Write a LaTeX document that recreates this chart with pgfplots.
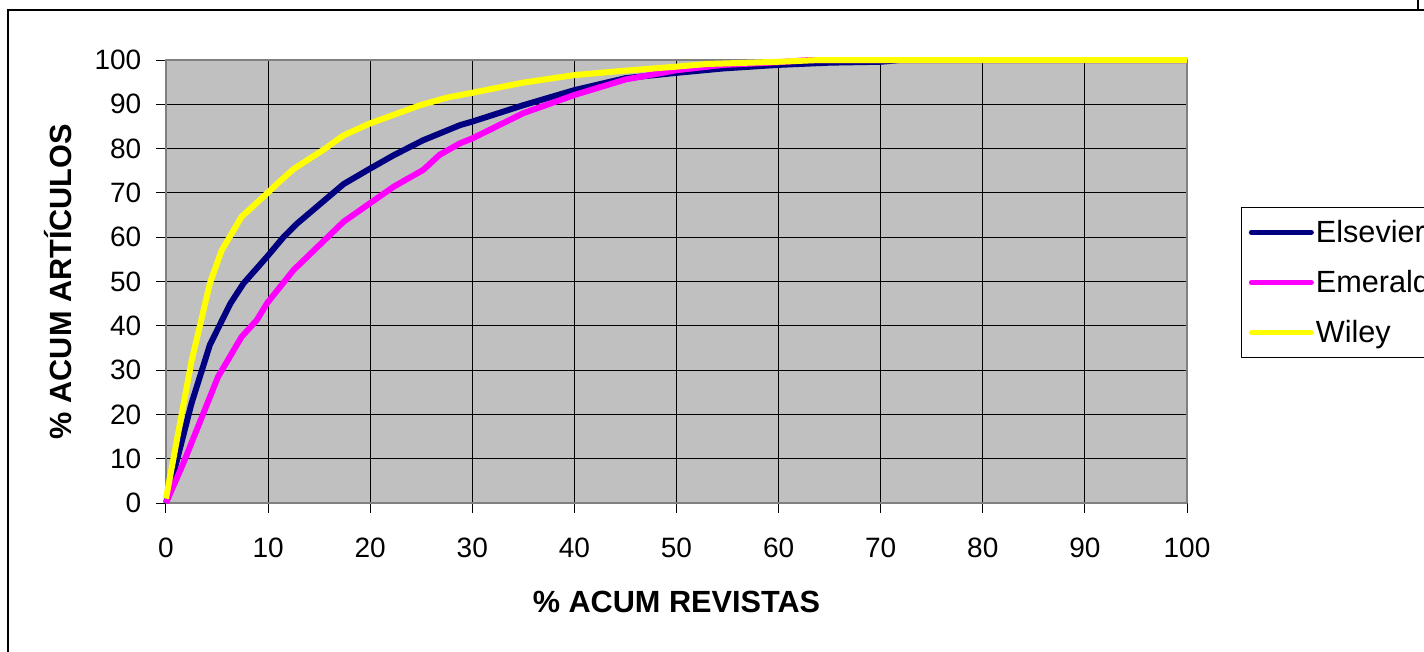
\documentclass[border=0pt]{standalone}
\usepackage{fontspec}
\setmainfont{Liberation Sans}
\usepackage{pgfplots}
\pgfplotsset{compat=1.18}
\definecolor{xlgray}{HTML}{C0C0C0}
\definecolor{xlnavy}{HTML}{000080}
\definecolor{xlmagenta}{HTML}{FF00FF}
\definecolor{xlyellow}{HTML}{FFFF00}

\begin{document}
\begin{tikzpicture}
% 1 px of the reference = 0.75pt; axis origin at px (166,503)
\useasboundingbox (-124.5pt,-111pt) rectangle (943.5pt,377.25pt);
\fill[white] (-124.5pt,-111pt) rectangle (943.5pt,377.25pt);
\clip (-124.5pt,-111pt) rectangle (943.5pt,377.25pt);
\draw[black, line width=0.9pt] (-118.5pt,-120pt) -- (-118.5pt,369.75pt) -- (960pt,369.75pt);
\draw[black, line width=2.2pt] (939pt,369.75pt) -- (939pt,380pt);
\begin{axis}[
  scale only axis,
  width=765.75pt, height=332.25pt,
  xmin=0, xmax=100, ymin=0, ymax=100,
  clip=false,
  xtick={0,10,...,100}, ytick={0,10,...,100},
  xtick pos=lower, ytick pos=left,
  tick align=outside, major tick length=7.5pt,
  tick style={black, line width=0.75pt},
  grid=major,
  major grid style={black, line width=0.75pt},
  axis background/.style={fill=xlgray},
  axis line style={gray, line width=1.2pt},
  /pgf/number format/assume math mode=true,
  tick label style={font=\fontsize{21}{25}\selectfont},
  xticklabel style={anchor=center, yshift=-26pt},
  yticklabel style={anchor=east, xshift=-7.5pt},
  xlabel={\bfseries\% ACUM REVISTAS},
  ylabel={\bfseries\% ACUM ARTÍCULOS},
  label style={font=\fontsize{23}{27}\selectfont},
  xlabel style={at={(axis description cs:0.5,0)}, anchor=center, yshift=-74pt},
  ylabel style={at={(axis description cs:0,0.5)}, anchor=center, yshift=81pt},
  legend style={at={(1.0529,0.668)}, anchor=north west, draw=black, line width=0.75pt,
    font=\fontsize{23}{27}\selectfont, inner xsep=5.5pt, inner ysep=8pt, row sep=16.5pt,
    nodes={inner sep=1.5pt}},
  legend cell align=left,
  legend image code/.code={\draw[#1, line cap=round, line width=3.75pt] (0pt,0pt) -- (45pt,0pt);},
  line join=round,
]
\addplot[xlnavy, line width=4.5pt] coordinates {
(0,0) (2.5,22.5) (4.3,35.7) (6.3,45) (7.6,49.6) (9.9,55.6) (11.5,60) (12.8,63)
(17.4,72) (20,75.5) (22.3,78.5) (25.2,81.9) (28.8,85.3) (30,86.1) (35,89.8)
(40,93.2) (45,95.9) (50,97.1) (54.6,98.1) (60,98.9) (65,99.4) (70,99.6) (72,100) (100,100)};
\addlegendentry{Elsevier}
\addplot[xlmagenta, line width=4.5pt] coordinates {
(0,0) (1.7,9) (5.1,28.5) (7.4,37.5) (8.9,41.3) (9.9,45.1) (12.5,52.6) (17.4,63.5)
(20,67.7) (22.3,71.4) (25.2,75.2) (26.8,78.6) (28.8,81.2) (30,82.3) (35,88) (40,92.1)
(45,95.6) (50,97.7) (54.6,98.9) (60,99.5) (63,100) (100,100)};
\addlegendentry{Emerald}
\addplot[xlyellow, line width=4.5pt] coordinates {
(0,1) (2.5,32) (4.3,49.6) (5.45,57) (7.4,64.6) (9.9,69.9) (11,72.3) (12.5,75.4)
(15.4,79.7) (17.4,83) (20,85.7) (24.9,89.8) (27.5,91.5) (30,92.6) (35,94.9) (40,96.6)
(45,97.6) (50,98.5) (53,99.1) (60,99.6) (64,100) (100,100)};
\addlegendentry{Wiley}
\end{axis}
\end{tikzpicture}
\end{document}
